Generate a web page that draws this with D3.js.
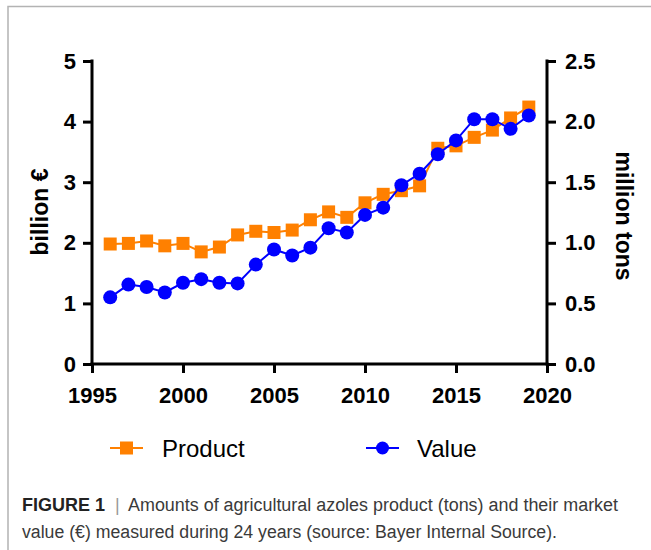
<!DOCTYPE html>
<html>
<head>
<meta charset="utf-8">
<script src="https://cdn.jsdelivr.net/npm/d3@7"></script>
<style>
  body { margin: 0; background: #fff; }
  text { font-family: "Liberation Sans", Arial, sans-serif; }
</style>
</head>
<body>
<div id="chart"></div>
<script>
const years = [1996, 1997, 1998, 1999, 2000, 2001, 2002, 2003, 2004, 2005, 2006, 2007,
               2008, 2009, 2010, 2011, 2012, 2013, 2014, 2015, 2016, 2017, 2018, 2019];
// million tons (right axis)
const productTons = [0.99, 0.995, 1.015, 0.975, 0.995, 0.925, 0.965, 1.065, 1.095, 1.085, 1.105, 1.19,
                     1.255, 1.21, 1.33, 1.40, 1.43, 1.47, 1.78, 1.80, 1.87, 1.93, 2.03, 2.12];
// billion € (left axis)
const valueEuro = [1.10, 1.31, 1.27, 1.18, 1.34, 1.40, 1.34, 1.33, 1.64, 1.89, 1.79, 1.92,
                   2.24, 2.17, 2.46, 2.58, 2.95, 3.14, 3.46, 3.69, 4.04, 4.04, 3.88, 4.10];
const xTicks = [1995, 2000, 2005, 2010, 2015, 2020];
const leftTicks = [0, 1, 2, 3, 4, 5];
const rightTicks = [0, 0.5, 1.0, 1.5, 2.0, 2.5];

const width = 651, height = 550;
const margin = {left: 92, right: 104, top: 61, bottom: 186};
const plotW = width - margin.left - margin.right;
const plotH = height - margin.top - margin.bottom;

const orange = "#ff8000", blue = "#0000ff";

const svg = d3.select("#chart").append("svg")
    .attr("width", width)
    .attr("height", height);

// frame
svg.append("path")
    .attr("d", "M8,"+ height + "V6.5H" + width)
    .attr("fill", "none")
    .attr("stroke", "#b3b3b3")
    .attr("stroke-width", 1.5);

const g = svg.append("g")
    .attr("transform", "translate(" + margin.left + "," + margin.top + ")");

const x = d3.scaleLinear().domain([1995, 2020]).range([0, plotW]);
const yL = d3.scaleLinear().domain([0, 5]).range([plotH, 0]);
const yR = d3.scaleLinear().domain([0, 2.5]).range([plotH, 0]);

function styleAxis(sel) {
    sel.selectAll("path, line").attr("stroke", "#000").attr("stroke-width", 3);
    sel.selectAll("text")
        .attr("fill", "#000")
        .style("font-size", "22px")
        .style("font-weight", "bold");
}

g.append("g")
    .attr("transform", "translate(0," + plotH + ")")
    .call(d3.axisBottom(x).tickValues(xTicks).tickFormat(d3.format("d")).tickSize(9).tickSizeOuter(0).tickPadding(14))
    .call(styleAxis)
    .call(a => a.select(".domain").attr("d", "M-1.5,0H" + (plotW + 1.5)));

g.append("g")
    .call(d3.axisLeft(yL).tickValues(leftTicks).tickFormat(d3.format("d")).tickSize(9).tickSizeOuter(0).tickPadding(7))
    .call(styleAxis)
    .call(a => a.select(".domain").attr("d", "M0,-1.5V" + (plotH + 1.5)));

g.append("g")
    .attr("transform", "translate(" + plotW + ",0)")
    .call(d3.axisRight(yR).tickValues(rightTicks).tickFormat(d3.format(".1f")).tickSize(9).tickSizeOuter(0).tickPadding(9))
    .call(styleAxis)
    .call(a => a.select(".domain").attr("d", "M0,-1.5V" + (plotH + 1.5)));

// axis titles
svg.append("text")
    .attr("transform", "translate(48,212) rotate(-90)")
    .attr("text-anchor", "middle")
    .style("font-size", "23px")
    .style("font-weight", "bold")
    .text("billion €");

svg.append("text")
    .attr("transform", "translate(616,216) rotate(90)")
    .attr("text-anchor", "middle")
    .style("font-size", "23px")
    .style("font-weight", "bold")
    .text("million tons");

const product = years.map((d, i) => [d, productTons[i]]);
const value = years.map((d, i) => [d, valueEuro[i]]);

g.append("path")
    .datum(product)
    .attr("fill", "none")
    .attr("stroke", orange)
    .attr("stroke-width", 2)
    .attr("d", d3.line().x(d => x(d[0])).y(d => yR(d[1])));

g.selectAll(".sq")
    .data(product)
    .join("rect")
    .attr("x", d => x(d[0]) - 6.5)
    .attr("y", d => yR(d[1]) - 6.5)
    .attr("width", 13)
    .attr("height", 13)
    .attr("fill", orange);

g.append("path")
    .datum(value)
    .attr("fill", "none")
    .attr("stroke", blue)
    .attr("stroke-width", 2)
    .attr("d", d3.line().x(d => x(d[0])).y(d => yL(d[1])));

g.selectAll(".dot")
    .data(value)
    .join("circle")
    .attr("cx", d => x(d[0]))
    .attr("cy", d => yL(d[1]))
    .attr("r", 7)
    .attr("fill", blue);

// legend
const legend = [
    {name: "Product", color: orange, shape: "square", x: 110, tx: 162},
    {name: "Value", color: blue, shape: "circle", x: 366, tx: 417}
];
const ly = 448;
legend.forEach(l => {
    svg.append("line")
        .attr("x1", l.x).attr("x2", l.x + 33)
        .attr("y1", ly).attr("y2", ly)
        .attr("stroke", l.color).attr("stroke-width", 2);
    if (l.shape == "square") {
        svg.append("rect")
            .attr("x", l.x + 16.5 - 6.5).attr("y", ly - 6.5)
            .attr("width", 13).attr("height", 13)
            .attr("fill", l.color);
    } else {
        svg.append("circle")
            .attr("cx", l.x + 16.5).attr("cy", ly).attr("r", 6.5)
            .attr("fill", l.color);
    }
    svg.append("text")
        .attr("x", l.tx).attr("y", ly + 9)
        .style("font-size", "24px")
        .attr("fill", "#000")
        .text(l.name);
});

// caption
svg.append("text")
    .attr("x", 22).attr("y", 511)
    .style("font-size", "18px")
    .style("font-weight", "bold")
    .attr("fill", "#222")
    .text("FIGURE 1");
svg.append("text")
    .attr("x", 115).attr("y", 511)
    .style("font-size", "18px")
    .attr("fill", "#999")
    .text("|");
svg.append("text")
    .attr("x", 128).attr("y", 511)
    .attr("textLength", 490)
    .attr("lengthAdjust", "spacingAndGlyphs")
    .style("font-size", "18px")
    .attr("fill", "#3a3a3a")
    .text("Amounts of agricultural azoles product (tons) and their market");
svg.append("text")
    .attr("x", 22).attr("y", 538)
    .attr("textLength", 535)
    .attr("lengthAdjust", "spacingAndGlyphs")
    .style("font-size", "18px")
    .attr("fill", "#3a3a3a")
    .text("value (€) measured during 24 years (source: Bayer Internal Source).");
</script>
</body>
</html>
